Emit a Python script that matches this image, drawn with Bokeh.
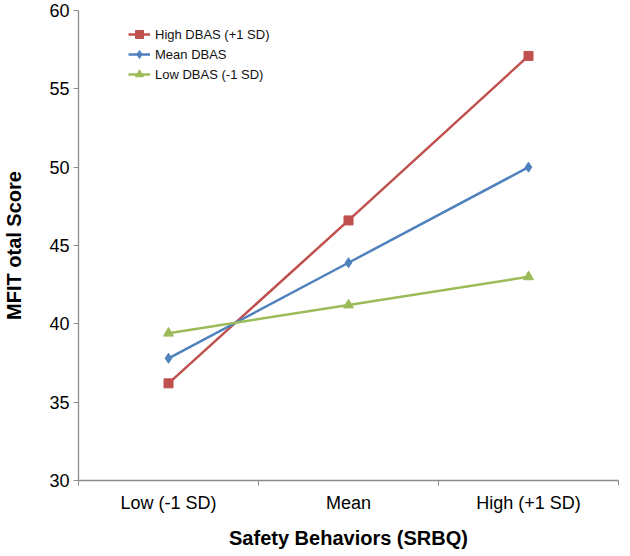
from bokeh.plotting import figure
from bokeh.models import Range1d, FixedTicker, Legend, LegendItem
from bokeh.embed import file_html
from bokeh.resources import INLINE

categories = ["Low (-1 SD)", "Mean", "High (+1 SD)"]
high_dbas = [36.2, 46.6, 57.1]
mean_dbas = [37.8, 43.9, 50.0]
low_dbas = [39.4, 41.2, 43.0]
series_names = ["High DBAS (+1 SD)", "Mean DBAS", "Low DBAS (-1 SD)"]
y_ticks = [30, 35, 40, 45, 50, 55, 60]

x = [i + 0.5 for i in range(len(categories))]
FONT = "Liberation Sans"
AXIS_COLOR = "#8c8c8c"

p = figure(width=630, height=556, output_backend="svg", toolbar_location=None,
           x_range=Range1d(0, len(categories)), y_range=Range1d(30, 60),
           min_border_left=75, min_border_right=12, min_border_top=10, min_border_bottom=76)
p.outline_line_color = None
p.xgrid.visible = False
p.ygrid.visible = False
p.background_fill_color = "white"

red, blue, green = "#C0504D", "#4F81BD", "#9BBB59"

r1 = p.line(x, high_dbas, line_color=red, line_width=2.5)
m1 = p.scatter(x, high_dbas, marker="square", size=9, fill_color=red, line_color=red)
r2 = p.line(x, mean_dbas, line_color=blue, line_width=2.5)
m2 = p.scatter(x, mean_dbas, marker="diamond", size=10, fill_color=blue, line_color=blue)
r3 = p.line(x, low_dbas, line_color=green, line_width=2.5)
m3 = p.scatter(x, low_dbas, marker="triangle", size=10, fill_color=green, line_color=green)

# axes
xa = p.xaxis[0]
xa.ticker = FixedTicker(ticks=x, minor_ticks=list(range(len(categories) + 1)))
xa.major_label_overrides = {xv: c for xv, c in zip(x, categories)}
xa.major_tick_out = 0
xa.major_tick_in = 0
xa.minor_tick_out = 5
xa.minor_tick_in = 0
xa.major_label_standoff = 7
xa.axis_label = "Safety Behaviors (SRBQ)"
xa.axis_label_standoff = 11

ya = p.yaxis[0]
ya.ticker = FixedTicker(ticks=y_ticks)
ya.major_tick_out = 5
ya.major_tick_in = 0
ya.minor_tick_out = 0
ya.minor_tick_in = 0
ya.major_label_standoff = 4
ya.axis_label = "MFIT otal Score"
ya.axis_label_standoff = 21

for ax in (xa, ya):
    ax.axis_line_color = AXIS_COLOR
    ax.major_tick_line_color = AXIS_COLOR
    ax.minor_tick_line_color = AXIS_COLOR
    ax.axis_line_width = 1.3
    ax.major_label_text_font = FONT
    ax.major_label_text_font_size = "18px"
    ax.major_label_text_color = "black"
    ax.axis_label_text_font = FONT
    ax.axis_label_text_font_size = "20px"
    ax.axis_label_text_font_style = "bold"
    ax.axis_label_text_color = "black"

legend = Legend(items=[LegendItem(label=series_names[0], renderers=[r1, m1]),
                       LegendItem(label=series_names[1], renderers=[r2, m2]),
                       LegendItem(label=series_names[2], renderers=[r3, m3])],
                location=(50, 396))
legend.padding = 0
legend.margin = 0
legend.spacing = 0
legend.glyph_width = 22
legend.glyph_height = 20
legend.label_height = 19
legend.label_standoff = 5
legend.border_line_color = None
legend.background_fill_alpha = 0
legend.label_text_font = FONT
legend.label_text_font_size = "13px"
legend.label_text_color = "#111111"
p.add_layout(legend, "center")

open("out.html", "w").write(file_html(p, INLINE))
